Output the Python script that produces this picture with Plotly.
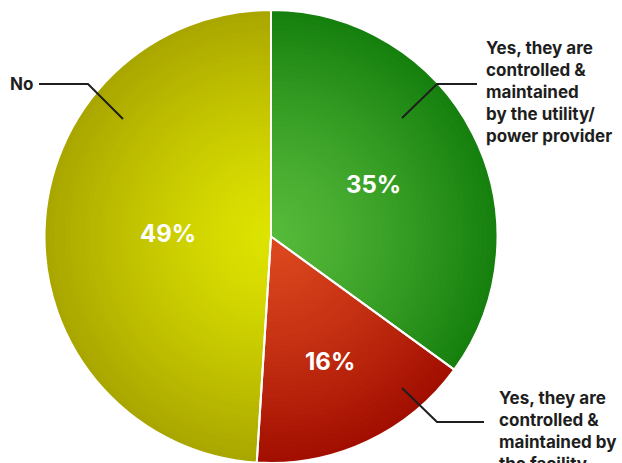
import math
import plotly.graph_objects as go

# Survey answers and their shares (percent)
labels = [
    "Yes, they are controlled & maintained by the utility/ power provider",
    "Yes, they are controlled & maintained by the facility",
    "No",
]
shares = [35, 16, 49]
callouts = [
    "Yes, they are<br>controlled &<br>maintained<br>by the utility/<br>power provider",
    "Yes, they are<br>controlled &<br>maintained by<br>the facility",
    "No",
]

# Shading of each slice: colour near the centre -> colour at the rim
centre_cols = [(86, 186, 58), (220, 72, 30), (222, 228, 0)]
rim_cols = [(22, 128, 14), (162, 14, 0), (170, 166, 0)]
# Radial placement of the percentage text (fraction of radius)
label_r = [0.51, 0.61, 0.455]

W, H = 622, 463
CX, CY, R = 271, 236.5, 226.5   # pie centre and radius in pixels
N_RINGS = 45


def mix(a, b, t):
    return "rgb({},{},{})".format(*[round(a[i] + (b[i] - a[i]) * t) for i in range(3)])


def domain(rr):
    x0 = max(0.0, (CX - rr) / W)
    x1 = min(1.0, (CX + rr) / W)
    y0 = max(0.0, 1 - (CY + rr) / H)
    y1 = min(1.0, 1 - (CY - rr) / H)
    return dict(x=[x0, x1], y=[y0, y1])


fig = go.Figure()

# Stack of shrinking pies gives a radial light-to-dark shading
for k in range(N_RINGS):
    frac = 1 - k / N_RINGS
    t = frac ** 1.3
    fig.add_trace(go.Pie(
        values=shares, labels=labels, sort=False, direction="clockwise",
        rotation=0, domain=domain(R * frac),
        marker=dict(colors=[mix(c, e, t) for c, e in zip(centre_cols, rim_cols)],
                    line=dict(width=0)),
        textinfo="none", hoverinfo="skip", showlegend=False,
    ))

# Outline trace with the white separators between slices
fig.add_trace(go.Pie(
    values=shares, labels=labels, sort=False, direction="clockwise",
    rotation=0, domain=domain(R),
    marker=dict(colors=["rgba(0,0,0,0)"] * 3, line=dict(color="white", width=2)),
    textinfo="none", hovertemplate="%{label}: %{value}%<extra></extra>",
    showlegend=False,
))

annotations = []
total = sum(shares)
start = 0.0
for v, rf in zip(shares, label_r):
    mid = (start + v / 2) / total * 2 * math.pi
    start += v
    px = CX + R * rf * math.sin(mid)
    py = CY - R * rf * math.cos(mid)
    annotations.append(dict(
        x=px / W, y=1 - py / H, xref="paper", yref="paper",
        text=f"{v}%", showarrow=False,
        font=dict(family="Inter", size=24, color="white", weight="bold"),
        xanchor="center", yanchor="middle",
    ))

text_font = dict(family="Inter", size=17, color="#1e1e1e", weight="bold")
annotations += [
    dict(x=484 / W, y=1 - 36 / H, text=callouts[0], align="left",
         xanchor="left", yanchor="top"),
    dict(x=497 / W, y=1 - 386 / H, text=callouts[1], align="left",
         xanchor="left", yanchor="top"),
    dict(x=8 / W, y=1 - 84 / H, text=callouts[2], align="left",
         xanchor="left", yanchor="middle"),
]
for a in annotations[3:]:
    a.update(xref="paper", yref="paper", showarrow=False, font=text_font)

# Leader lines from the callouts to the slices (pixel paths)
leaders = [
    [(402, 118), (437, 84), (477, 84)],
    [(402, 388), (437, 422), (484, 422)],
    [(39, 84), (88, 84), (123, 119)],
]
shapes = []
for pts in leaders:
    path = "M " + " L ".join(f"{x / W},{1 - y / H}" for x, y in pts)
    shapes.append(dict(type="path", path=path, xref="paper", yref="paper",
                       line=dict(color="#1e1e1e", width=2)))

fig.update_layout(
    width=W, height=H,
    margin=dict(l=0, r=0, t=0, b=0),
    paper_bgcolor="white", plot_bgcolor="white",
    annotations=annotations, shapes=shapes,
)

fig.write_html("out.html")
